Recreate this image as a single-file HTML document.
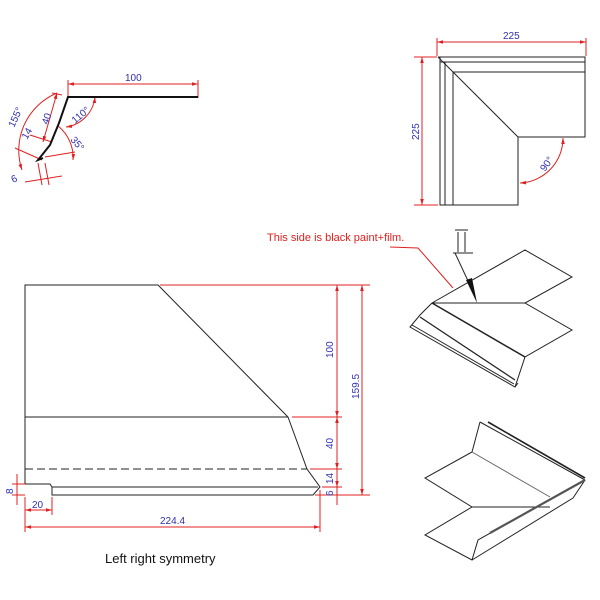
<!DOCTYPE html>
<html><head><meta charset="utf-8"><style>
html,body{margin:0;padding:0;background:#fff;}
svg{display:block;font-family:"Liberation Sans",sans-serif;}
</style></head><body>
<svg width="600" height="600" viewBox="0 0 600 600" xmlns="http://www.w3.org/2000/svg">
<defs>
<marker id="a" viewBox="0 0 10 10" refX="10" refY="5" markerWidth="6" markerHeight="6" orient="auto-start-reverse"><path d="M0,2 L10,5 L0,8 z" fill="#e02020"/></marker>
</defs>
<rect width="600" height="600" fill="#fff"/>

<g fill="none" stroke="#e02020" stroke-width="1">
<line x1="68" y1="84" x2="198" y2="84" marker-start="url(#a)" marker-end="url(#a)"/>
<line x1="68" y1="80" x2="68" y2="96"/><line x1="198" y1="80" x2="198" y2="98"/>
<path d="M95,97 A34,34 0 0 1 66,127" marker-end="url(#a)" marker-start="url(#a)"/>
<path d="M57,93 A62,62 0 0 0 22,170" marker-end="url(#a)"/>
<line x1="57" y1="93" x2="43" y2="142" marker-start="url(#a)" marker-end="url(#a)"/>
<line x1="52" y1="93" x2="62" y2="95"/>
<line x1="30" y1="135" x2="52" y2="142"/>
<line x1="15" y1="148" x2="42" y2="160"/>
<path d="M58,126 A40,40 0 0 1 73,160" marker-end="url(#a)"/>
<line x1="45" y1="157" x2="75" y2="152"/>
<line x1="38" y1="163" x2="42" y2="185"/><line x1="45" y1="163" x2="49" y2="185"/>
<line x1="25" y1="182" x2="62" y2="176"/>
</g>
<path d="M198,97 L68,97 L59,123 L50,145 L38,160 L43,158" fill="none" stroke="#111" stroke-width="2"/>
<g fill="#3030b0" font-size="10">
<text x="125" y="81">100</text>
<text transform="translate(14,128) rotate(-65)">155°</text>
<text transform="translate(48,125) rotate(-72)">40</text>
<text transform="translate(27,140) rotate(-60)">14</text>
<text transform="translate(75,124) rotate(-40)">110°</text>
<text transform="translate(70,140) rotate(50)">35°</text>
<text transform="translate(13,183) rotate(-25)">6</text>
</g>

<g fill="none" stroke="#e02020" stroke-width="1">
<line x1="437" y1="42" x2="586" y2="42" marker-start="url(#a)" marker-end="url(#a)"/>
<line x1="437" y1="38" x2="437" y2="56"/><line x1="586" y1="38" x2="586" y2="56"/>
<line x1="422" y1="57" x2="422" y2="205" marker-start="url(#a)" marker-end="url(#a)"/>
<line x1="414" y1="57" x2="437" y2="57"/><line x1="414" y1="205" x2="438" y2="205"/>
<path d="M563,138 A45,45 0 0 1 520,183" marker-start="url(#a)" marker-end="url(#a)"/>
</g>
<g fill="none" stroke="#222" stroke-width="1">
<path d="M438,57 L585,57 L585,137 L518,137 L518,205 L440,205 L440,57"/>
<line x1="440" y1="62" x2="585" y2="62"/>
<line x1="445" y1="62" x2="445" y2="205"/>
<line x1="453" y1="72" x2="585" y2="72"/>
<line x1="453" y1="72" x2="453" y2="205"/>
<line x1="438" y1="57" x2="453" y2="72"/>
<line x1="453" y1="72" x2="518" y2="137"/>
</g>
<g fill="#3030b0" font-size="10">
<text x="503" y="39">225</text>
<text transform="translate(419,140) rotate(-90)">225</text>
<text transform="translate(545,172) rotate(-55)">90°</text>
</g>

<text x="267" y="241" font-size="11" fill="#e02020">This side is black paint+film.</text>
<path d="M390,247 L418,248 L453,288" fill="none" stroke="#e02020" stroke-width="1"/>

<g fill="none" stroke="#222" stroke-width="1">
<line x1="455" y1="230" x2="468" y2="230"/>
<line x1="458" y1="232" x2="458" y2="252"/><line x1="465" y1="232" x2="465" y2="252"/>
<line x1="453" y1="253" x2="473" y2="253"/>
<line x1="455" y1="253" x2="469" y2="283"/>
<path d="M432,303 L525,250 L572,277 L525,303 L572,330 L525,357 L515,387"/>
<line x1="432" y1="303" x2="525" y2="303"/>
<line x1="432" y1="303" x2="525" y2="357" stroke-width="1.5"/>
<path d="M432,303 L420,315 L410,327 L515,387 L518,383"/>
<line x1="420" y1="317" x2="515" y2="380" stroke-width="1.3"/>
<line x1="412" y1="325" x2="514" y2="384"/>
</g>
<path d="M466,280 L472,278 L477,303 z" fill="#111"/>

<g fill="none" stroke="#222" stroke-width="1">
<path d="M480,422 L472,452 L425,478 L472,507 L425,535 L472,560 L478,540 L585,480 L573,498 L472,560"/>
<line x1="480" y1="422" x2="585" y2="480"/>
<line x1="488" y1="422" x2="585" y2="478" stroke-width="1.6"/>
<line x1="472" y1="452" x2="550" y2="497" stroke="#666"/>
<line x1="472" y1="507" x2="550" y2="507"/>
<line x1="490" y1="533" x2="585" y2="480" stroke-width="2.2" stroke="#555"/>
</g>

<g fill="none" stroke="#222" stroke-width="1">
<path d="M25,484 L25,285 L158,285 L288,417 L307,469 L320,487 L313,495 L52,495 L52,487 L50,484 L25,484"/>
<line x1="25" y1="417" x2="288" y2="417"/>
<line x1="52" y1="487" x2="318" y2="487"/>
<line x1="25" y1="469" x2="307" y2="469" stroke-dasharray="8,4"/>
</g>
<g fill="none" stroke="#e02020" stroke-width="1">
<line x1="160" y1="285" x2="370" y2="285"/>
<line x1="292" y1="417" x2="342" y2="417"/>
<line x1="310" y1="469" x2="342" y2="469"/>
<line x1="322" y1="487" x2="342" y2="487"/>
<line x1="315" y1="495" x2="370" y2="495"/>
<line x1="337" y1="285" x2="337" y2="417" marker-start="url(#a)" marker-end="url(#a)"/>
<line x1="337" y1="417" x2="337" y2="469" marker-start="url(#a)" marker-end="url(#a)"/>
<line x1="337" y1="469" x2="337" y2="487" marker-end="url(#a)"/>
<line x1="337" y1="487" x2="337" y2="505"/>
<line x1="362" y1="285" x2="362" y2="495" marker-start="url(#a)" marker-end="url(#a)"/>
<line x1="25" y1="497" x2="25" y2="532"/>
<line x1="52" y1="497" x2="52" y2="515"/>
<line x1="320" y1="490" x2="320" y2="532"/>
<line x1="25" y1="510" x2="52" y2="510" marker-start="url(#a)" marker-end="url(#a)"/>
<line x1="25" y1="527" x2="320" y2="527" marker-start="url(#a)" marker-end="url(#a)"/>
<line x1="12" y1="484" x2="25" y2="484"/><line x1="12" y1="495" x2="25" y2="495"/>
<line x1="17" y1="474" x2="17" y2="505"/>
</g>
<g fill="#3030b0" font-size="10">
<text transform="translate(333,358) rotate(-90)">100</text>
<text transform="translate(333,449) rotate(-90)">40</text>
<text transform="translate(333,484) rotate(-90)">14</text>
<text transform="translate(333,496) rotate(-90)">6</text>
<text transform="translate(359,399) rotate(-90)">159.5</text>
<text transform="translate(13,494) rotate(-90)">8</text>
<text x="32" y="508">20</text>
<text x="160" y="524">224.4</text>
</g>
<text x="105" y="563" font-size="13" fill="#111">Left right symmetry</text>
</svg>
</body></html>
